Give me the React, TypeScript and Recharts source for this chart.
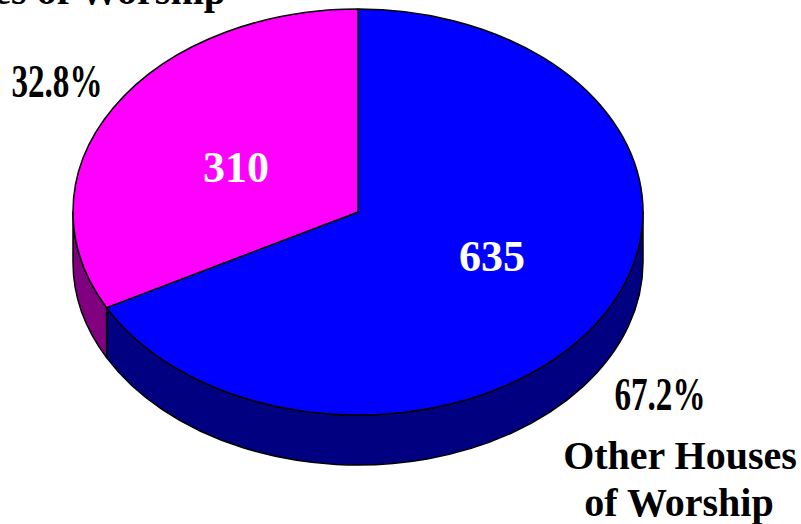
import React from 'react';
import { PieChart, Pie } from 'recharts';

const categories = ['Other Houses of Worship', 'Houses of Worship'];
const counts = [635, 310];
const shares = ['67.2%', '32.8%'];
const topColors = ['#0000FF', '#FF00FF'];
const sideColors = ['#000080', '#800080'];

const pieData = categories.map((name, i) => ({ name, value: counts[i], top: topColors[i], side: sideColors[i] }));

const CX = 358;
const CY = 212;
const RX = 285;
const RY = 203;
const DEPTH = 50;
const serif = '"Liberation Serif", serif';

const pt = (cx: number, cy: number, ry: number, deg: number, dy = 0) => {
  const r = (deg * Math.PI) / 180;
  return `${cx + RX * Math.cos(r)} ${cy - ry * Math.sin(r) + dy}`;
};

// the pie's circle gets squashed into an ellipse here
const TopSlice = (props: any) => {
  const { cx, cy, startAngle, endAngle, payload } = props;
  const large = Math.abs(endAngle - startAngle) > 180 ? 1 : 0;
  const d = `M ${cx} ${cy} L ${pt(cx, cy, RY, startAngle)} A ${RX} ${RY} 0 ${large} 1 ${pt(cx, cy, RY, endAngle)} Z`;
  return <path d={d} fill={payload.top} stroke="#000" strokeWidth={1.5} strokeLinejoin="round" />;
};

// wall below the rim, only the front half (math angles 0 to -180) shows
const SideSlice = (props: any) => {
  const { cx, cy, startAngle, endAngle, payload } = props;
  const a = Math.min(startAngle, 0);
  const b = Math.max(endAngle, -180);
  if (a <= b) return <g />;
  const d =
    `M ${pt(cx, cy, RY, a)} A ${RX} ${RY} 0 0 1 ${pt(cx, cy, RY, b)} ` +
    `L ${pt(cx, cy, RY, b, DEPTH)} A ${RX} ${RY} 0 0 0 ${pt(cx, cy, RY, a, DEPTH)} Z`;
  return <path d={d} fill={payload.side} stroke="#000" strokeWidth={1.5} strokeLinejoin="round" />;
};

const valueSpots = [
  { x: 492, y: 271 },
  { x: 236, y: 182 },
];
const shareSpots = [
  { x: 660, y: 410, w: 91 },
  { x: 57, y: 97, w: 91 },
];

// counts and shares both go through the pie's own label hook so they sit over the slices
const SliceLabels = (props: any) => {
  const { index, value } = props;
  return (
    <g>
      <text x={valueSpots[index].x} y={valueSpots[index].y} textAnchor="middle" fontFamily={serif} fontWeight="bold" fontSize={44} fill="#fff">
        {value}
      </text>
      <text
        x={shareSpots[index].x}
        y={shareSpots[index].y}
        textAnchor="middle"
        fontFamily={serif}
        fontWeight="bold"
        fontSize={47}
        fill="#000"
        textLength={shareSpots[index].w}
        lengthAdjust="spacingAndGlyphs"
      >
        {shares[index]}
      </text>
    </g>
  );
};

export default function App() {
  return (
    <div style={{ position: 'absolute', left: 0, top: 0, width: 801, height: 524, background: '#fff' }}>
      <PieChart width={801} height={524} margin={{ top: 0, right: 0, bottom: 0, left: 0 }}>
        <Pie
          data={pieData}
          dataKey="value"
          cx={CX}
          cy={CY}
          outerRadius={RX}
          startAngle={90}
          endAngle={-270}
          shape={SideSlice}
          isAnimationActive={false}
        />
        <Pie
          data={pieData}
          dataKey="value"
          cx={CX}
          cy={CY}
          outerRadius={RX}
          startAngle={90}
          endAngle={-270}
          shape={TopSlice}
          label={SliceLabels}
          labelLine={false}
          isAnimationActive={false}
        />
        <text x={226} y={4} textAnchor="end" fontFamily={serif} fontWeight="bold" fontSize={40} fill="#000">
          {categories[1]}
        </text>
        <text x={680} y={469} textAnchor="middle" fontFamily={serif} fontWeight="bold" fontSize={40} fill="#000">
          Other Houses
        </text>
        <text x={679} y={516} textAnchor="middle" fontFamily={serif} fontWeight="bold" fontSize={40} fill="#000">
          of Worship
        </text>
      </PieChart>
    </div>
  );
}
